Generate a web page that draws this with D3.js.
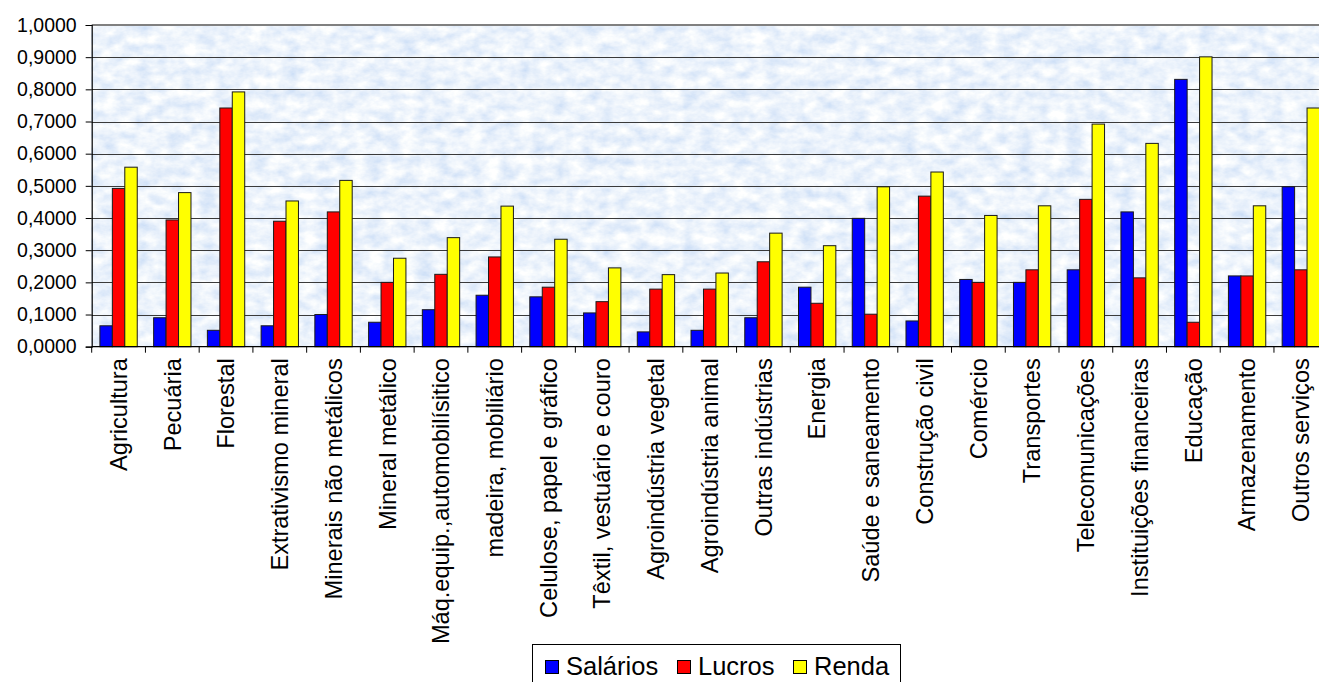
<!DOCTYPE html>
<html>
<head>
<meta charset="utf-8">
<script src="https://cdn.jsdelivr.net/npm/d3@7"></script>
<style>
  html, body { margin: 0; padding: 0; background: #fff; overflow: hidden; }
  svg { display: block; font-family: Arial, "Liberation Sans", sans-serif; }
</style>
</head>
<body>
<svg id="chart" width="1319" height="682"></svg>
<script>
// Sectors (x categories)
const categories = [
  "Agricultura", "Pecuária", "Florestal", "Extrativismo mineral",
  "Minerais não metálicos", "Mineral metálico", "Máq.equip.,automobilísitico",
  "madeira, mobiliário", "Celulose, papel e gráfico", "Têxtil, vestuário e couro",
  "Agroindústria vegetal", "Agroindústria animal", "Outras indústrias", "Energia",
  "Saúde e saneamento", "Construção civil", "Comércio", "Transportes",
  "Telecomunicações", "Instituições financeiras", "Educação", "Armazenamento",
  "Outros serviços"
];

// Series values per sector
const salarios = [0.065, 0.090, 0.051, 0.065, 0.100, 0.076, 0.115, 0.160, 0.155, 0.105, 0.046, 0.051,
                  0.090, 0.185, 0.399, 0.080, 0.209, 0.200, 0.239, 0.419, 0.831, 0.220, 0.497];
const lucros   = [0.492, 0.394, 0.742, 0.390, 0.419, 0.200, 0.225, 0.279, 0.185, 0.140, 0.179, 0.179,
                  0.264, 0.135, 0.101, 0.468, 0.200, 0.239, 0.458, 0.214, 0.076, 0.220, 0.239];
const renda    = [0.558, 0.479, 0.792, 0.453, 0.517, 0.275, 0.339, 0.437, 0.334, 0.245, 0.224, 0.229,
                  0.353, 0.314, 0.497, 0.543, 0.408, 0.438, 0.692, 0.632, 0.901, 0.438, 0.742];

const seriesNames = ["Salários", "Lucros", "Renda"];
const seriesColors = ["#0000ff", "#ff0000", "#ffff00"];

// Y axis tick values
const yTicks = [0, 0.1, 0.2, 0.3, 0.4, 0.5, 0.6, 0.7, 0.8, 0.9, 1.0];

const series = [salarios, lucros, renda];
const rows = categories.map((c, i) => ({
  cat: c,
  vals: seriesNames.map((s, k) => ({ key: s, value: series[k][i] }))
}));

const svg = d3.select("#chart");
const plot = { left: 91.7, top: 25, bottom: 346.7, right: 1327.7 };

const x0 = d3.scaleBand().domain(categories).range([plot.left, plot.right]).padding(0);
const groupPad = 8.2;
const x1 = d3.scaleBand().domain(seriesNames).range([groupPad, x0.bandwidth() - groupPad]).padding(0);
const y = d3.scaleLinear().domain([0, 1]).range([plot.bottom, plot.top]);
const color = d3.scaleOrdinal().domain(seriesNames).range(seriesColors);

const ptLocale = d3.formatLocale({ decimal: ",", thousands: ".", grouping: [3], currency: ["R$", ""] });
const fmt = ptLocale.format(".4f");

// Mottled light-blue texture for the plot area
const defs = svg.append("defs");
const filt = defs.append("filter").attr("id", "tex")
  .attr("x", 0).attr("y", 0).attr("width", 1).attr("height", 1)
  .attr("filterUnits", "objectBoundingBox");
filt.append("feTurbulence").attr("type", "fractalNoise")
  .attr("baseFrequency", "0.06 0.09").attr("numOctaves", 4).attr("seed", 11).attr("result", "n");
filt.append("feColorMatrix").attr("in", "n").attr("type", "matrix")
  .attr("values", [
    0.55, 0, 0, 0, 0.57,
    0.38, 0, 0, 0, 0.71,
    0.10, 0, 0, 0, 0.92,
    0, 0, 0, 0, 1
  ].join(" "));

svg.append("rect")
  .attr("x", plot.left).attr("y", plot.top)
  .attr("width", plot.right - plot.left).attr("height", plot.bottom - plot.top)
  .attr("fill", "#d6e6f8")
  .attr("filter", "url(#tex)");

// Horizontal gridlines
svg.append("g").selectAll("line")
  .data(yTicks.filter(t => t > 0 && t < 1))
  .join("line")
  .attr("x1", plot.left).attr("x2", plot.right)
  .attr("y1", d => Math.round(y(d)) + 0.5).attr("y2", d => Math.round(y(d)) + 0.5)
  .attr("stroke", "#3a3a3a").attr("stroke-width", 1);

// Top border of plot area
svg.append("line")
  .attr("x1", plot.left).attr("x2", plot.right)
  .attr("y1", plot.top).attr("y2", plot.top)
  .attr("stroke", "#808080").attr("stroke-width", 2);

// Bars
svg.append("g").selectAll("g")
  .data(rows)
  .join("g")
  .attr("transform", d => `translate(${x0(d.cat)},0)`)
  .selectAll("rect")
  .data(d => d.vals)
  .join("rect")
  .attr("x", d => x1(d.key))
  .attr("width", x1.bandwidth())
  .attr("y", d => y(d.value))
  .attr("height", d => y(0) - y(d.value))
  .attr("fill", d => color(d.key))
  .attr("stroke", "#1a1a1a")
  .attr("stroke-width", 1);

// Y axis
const yAxis = d3.axisLeft(y).tickValues(yTicks).tickFormat(fmt).tickSize(6).tickPadding(9);
const gy = svg.append("g").attr("transform", `translate(${plot.left},0)`).call(yAxis);
gy.select(".domain").attr("stroke", "#000").attr("stroke-width", 1.2);
gy.selectAll(".tick line").attr("stroke", "#000");
gy.selectAll(".tick text")
  .attr("fill", "#000")
  .style("font-size", "19.5px")
  .style("font-family", "Arial, 'Liberation Sans', sans-serif");

// X axis: boundary ticks between categories
svg.append("line")
  .attr("x1", plot.left).attr("x2", plot.right)
  .attr("y1", plot.bottom).attr("y2", plot.bottom)
  .attr("stroke", "#000").attr("stroke-width", 1.2);
svg.append("g").selectAll("line")
  .data(categories.map((c, i) => i).concat([categories.length]))
  .join("line")
  .attr("x1", i => plot.left + i * x0.step()).attr("x2", i => plot.left + i * x0.step())
  .attr("y1", plot.bottom).attr("y2", plot.bottom + 6)
  .attr("stroke", "#000");

// Category labels, rotated
svg.append("g").selectAll("text")
  .data(categories)
  .join("text")
  .attr("transform", d => `translate(${x0(d) + x0.bandwidth() / 2},${plot.bottom + 11.5}) rotate(-90)`)
  .attr("text-anchor", "end")
  .attr("dy", "0.35em")
  .style("font-size", "23.6px")
  .attr("fill", "#000")
  .text(d => d);

// Legend
const lg = svg.append("g");
lg.append("rect")
  .attr("x", 532.5).attr("y", 644.5).attr("width", 368).attr("height", 60)
  .attr("fill", "#fff").attr("stroke", "#000").attr("stroke-width", 1);
const legendX = [545, 677, 793];
const items = lg.selectAll("g.item").data(seriesNames).join("g")
  .attr("class", "item")
  .attr("transform", (d, i) => `translate(${legendX[i]},0)`);
items.append("rect")
  .attr("x", 0.5).attr("y", 660.5).attr("width", 13).attr("height", 13)
  .attr("fill", d => color(d)).attr("stroke", "#000").attr("stroke-width", 1);
items.append("text")
  .attr("x", 21).attr("y", 674.5)
  .style("font-size", "25.5px")
  .attr("fill", "#000")
  .text(d => d);
</script>
</body>
</html>
